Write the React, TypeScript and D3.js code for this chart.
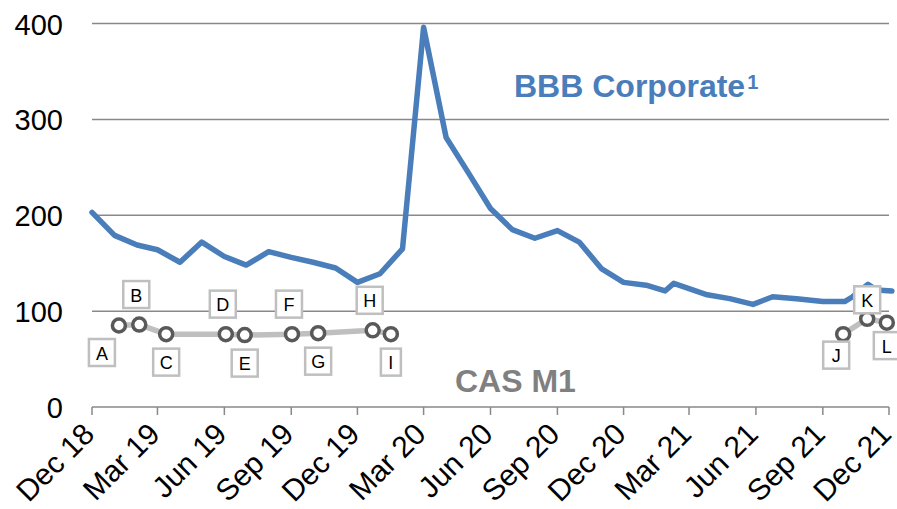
import React from "react";
import * as d3 from "d3";

// quarterly axis labels
const quarterLabels = [
  "Dec 18", "Mar 19", "Jun 19", "Sep 19", "Dec 19", "Mar 20", "Jun 20",
  "Sep 20", "Dec 20", "Mar 21", "Jun 21", "Sep 21", "Dec 21",
];
const yTicks = [0, 100, 200, 300, 400];

// BBB corporate spread (bp)
const corpDates = [
  "2018-12-01", "2019-01-01", "2019-02-01", "2019-03-01", "2019-04-01", "2019-05-01",
  "2019-06-01", "2019-07-01", "2019-08-01", "2019-09-01", "2019-10-01", "2019-11-01",
  "2019-12-01", "2020-01-01", "2020-02-01", "2020-03-01", "2020-04-01", "2020-05-01",
  "2020-06-01", "2020-07-01", "2020-08-01", "2020-09-01", "2020-10-01", "2020-11-01",
  "2020-12-01", "2021-01-01", "2021-01-27", "2021-02-08", "2021-03-26", "2021-04-26",
  "2021-05-28", "2021-06-24", "2021-07-27", "2021-09-01", "2021-10-01", "2021-10-12",
  "2021-11-02", "2021-11-14", "2021-12-05",
];
const corpValues = [
  203, 179, 169, 164, 151, 172,
  157, 148, 162, 156, 151, 145,
  130, 139, 165, 396, 281, 245,
  207, 185, 176, 184, 172, 144,
  130, 127, 121, 129, 117, 113,
  107, 115, 113, 110, 110, 115,
  128, 122, 121,
];

// CAS M1 points
const casDates = [
  "2019-01-07", "2019-02-04", "2019-03-13", "2019-06-03", "2019-06-29", "2019-09-02",
  "2019-10-08", "2019-12-22", "2020-01-16", "2021-09-29", "2021-11-01", "2021-11-28",
];
const casValues = [85, 86, 76, 76, 75, 76, 77, 80, 76, 76, 92, 88];
const casLabels = ["A", "B", "C", "D", "E", "F", "G", "H", "I", "J", "K", "L"];
const casRuns = [[0, 8], [9, 11]];
const casLabelPlace = [
  "lowLeft", "above", "below", "above", "below", "above",
  "below", "above", "below", "nearLowLeft", "nearAbove", "nearBelow",
];

const W = 897;
const H = 509;
const FONT = "'Liberation Sans', Arial, Helvetica, sans-serif";
const BLUE = "#4a7ebb";
const GRID = "#898989";

const placeOffset: Record<string, [number, number]> = {
  above: [-3, -30],
  below: [0, 28],
  lowLeft: [-17, 27],
  nearLowLeft: [-7, 21],
  nearAbove: [0, -19],
  nearBelow: [0, 23],
};

export default function App() {
  const parse = d3.timeParse("%Y-%m-%d");
  const x = d3
    .scaleTime()
    .domain([new Date(2018, 11, 1), new Date(2021, 11, 1)])
    .range([92, 889]);
  const y = d3.scaleLinear().domain([0, 400]).range([407, 23.5]);

  const tickDates = quarterLabels.map((_, i) => d3.timeMonth.offset(new Date(2018, 11, 1), i * 3));

  const corp = corpDates.map((d, i) => ({ date: parse(d) as Date, value: corpValues[i] }));
  const cas = casDates.map((d, i) => ({
    date: parse(d) as Date,
    value: casValues[i],
    label: casLabels[i],
    place: casLabelPlace[i],
  }));

  const line = d3
    .line<{ date: Date; value: number }>()
    .x((d) => x(d.date))
    .y((d) => y(d.value));

  return (
    <svg
      width={W}
      height={H}
      style={{ position: "absolute", left: 0, top: 0, background: "#fff" }}
      fontFamily={FONT}
    >
      {/* gridlines */}
      {yTicks
        .filter((t) => t > 0)
        .map((t) => (
          <line key={t} x1={92} x2={889} y1={y(t)} y2={y(t)} stroke={GRID} strokeWidth={1.5} />
        ))}
      {/* x axis */}
      <line x1={92} x2={889} y1={y(0)} y2={y(0)} stroke={GRID} strokeWidth={1.5} />
      {tickDates.map((d, i) => (
        <line key={i} x1={x(d)} x2={x(d)} y1={y(0)} y2={y(0) + 8} stroke={GRID} strokeWidth={1.5} />
      ))}
      {/* y labels */}
      {yTicks.map((t) => (
        <text key={t} x={63} y={y(t) + 1} textAnchor="end" dominantBaseline="central" fontSize={29} fill="#000">
          {t}
        </text>
      ))}
      {/* x labels */}
      {tickDates.map((d, i) => (
        <text
          key={i}
          textAnchor="end"
          fontSize={30}
          fill="#000"
          transform={`translate(${x(d) + 4},${436}) rotate(-45)`}
        >
          {quarterLabels[i]}
        </text>
      ))}

      {/* CAS M1 connecting lines */}
      {casRuns.map(([a, b], i) => (
        <path
          key={i}
          d={line(cas.slice(a, b + 1)) || ""}
          fill="none"
          stroke="#bfbfbf"
          strokeWidth={5.5}
          strokeLinejoin="round"
        />
      ))}

      {/* BBB corporate line */}
      <path
        d={line(corp) || ""}
        fill="none"
        stroke={BLUE}
        strokeWidth={5.5}
        strokeLinejoin="round"
        strokeLinecap="round"
      />

      {/* CAS markers */}
      {cas.map((d) => (
        <circle key={d.label} cx={x(d.date)} cy={y(d.value)} r={6.5} fill="#fff" stroke="#595959" strokeWidth={3.5} />
      ))}

      {/* data labels */}
      {cas.map((d) => {
        const [dx, dy] = placeOffset[d.place];
        const cx = x(d.date) + dx;
        const cy = y(d.value) + dy;
        const w = d.label === "I" ? 20 : 26;
        return (
          <g key={d.label}>
            <rect x={cx - w / 2} y={cy - 13.5} width={w} height={27} fill="#fff" stroke="#bfbfbf" strokeWidth={2.5} />
            <text x={cx} y={cy + 1} textAnchor="middle" dominantBaseline="central" fontSize={18} fill="#000">
              {d.label}
            </text>
          </g>
        );
      })}

      {/* series annotations */}
      <text x={514} y={97} fontSize={32} fontWeight="bold" fill={BLUE}>
        BBB Corporate
        <tspan fontSize={20} dy={-8} dx={2}>1</tspan>
      </text>
      <text x={455} y={392} fontSize={32} fontWeight="bold" fill="#808080">
        CAS M1
      </text>
    </svg>
  );
}
